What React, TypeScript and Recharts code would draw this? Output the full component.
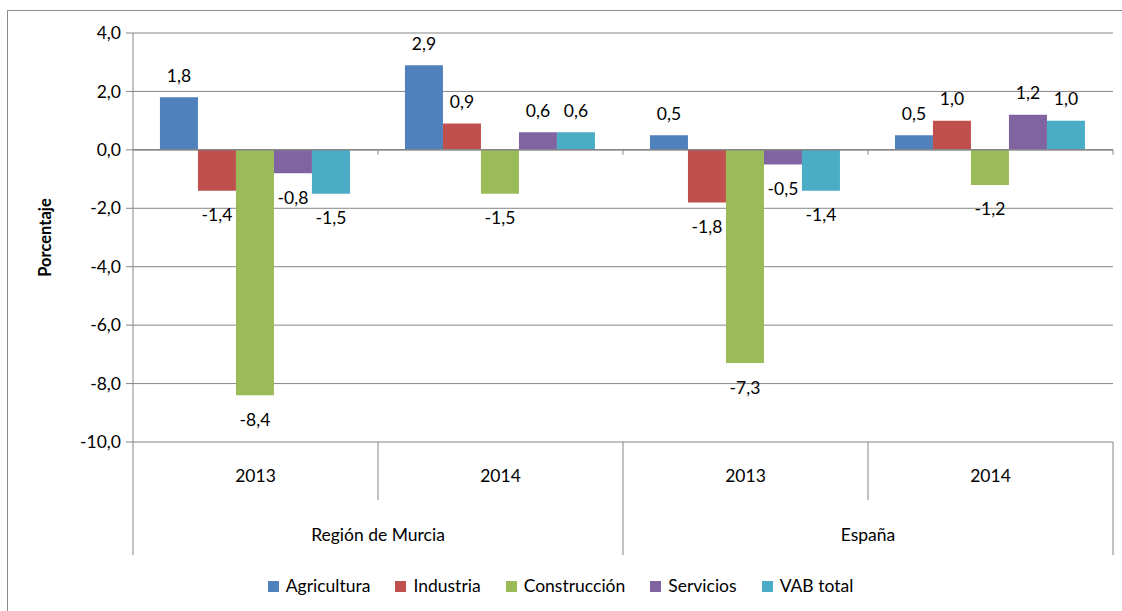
import React from 'react';
import { BarChart, Bar, XAxis, YAxis, CartesianGrid, ReferenceLine, Legend, LabelList } from 'recharts';

const regions = ['Región de Murcia', 'Región de Murcia', 'España', 'España'];
const years = ['2013', '2014', '2013', '2014'];

const agricultura = [1.8, 2.9, 0.5, 0.5];
const industria = [-1.4, 0.9, -1.8, 1.0];
const construccion = [-8.4, -1.5, -7.3, -1.2];
const servicios = [-0.8, 0.6, -0.5, 1.2];
const vabTotal = [-1.5, 0.6, -1.4, 1.0];

const yTicks = [-10, -8, -6, -4, -2, 0, 2, 4];

const series = [
    { key: 'agricultura', name: 'Agricultura', color: '#4F81BD', values: agricultura },
    { key: 'industria', name: 'Industria', color: '#C0504D', values: industria },
    { key: 'construccion', name: 'Construcción', color: '#9BBB59', values: construccion },
    { key: 'servicios', name: 'Servicios', color: '#8064A2', values: servicios },
    { key: 'vab', name: 'VAB total', color: '#4BACC6', values: vabTotal },
];

const data = years.map((year, i) => {
    const row: Record<string, string | number> = { year, region: regions[i] };
    series.forEach((s) => {
        row[s.key] = s.values[i];
    });
    return row;
});

// layout
const W = 1122;
const H = 611;
const MARGIN = { top: 33, right: 9, left: 8, bottom: 10 };
const Y_AXIS_W = 125;
const YEAR_AXIS_H = 58;
const REGION_AXIS_H = 55;
const LEGEND_H = 46;
const PLOT_LEFT = MARGIN.left + Y_AXIS_W;
const PLOT_W = W - MARGIN.right - PLOT_LEFT;
const PLOT_BOTTOM = H - MARGIN.bottom - LEGEND_H - REGION_AXIS_H - YEAR_AXIS_H;
const PLOT_H = PLOT_BOTTOM - MARGIN.top;
const Y_MIN = -10;
const Y_MAX = 4;
const ZERO_Y = MARGIN.top + ((Y_MAX - 0) / (Y_MAX - Y_MIN)) * PLOT_H;
const BAND = PLOT_W / years.length;

const GRID = '#868686';
const FONT = 'Lato, "Liberation Sans", sans-serif';
const FS = 17.5;

const fmt = (v: number) => v.toFixed(1).replace('.', ',');

const YearTick = (props: any) => {
    const { x, index } = props;
    const left = x - BAND / 2;
    const right = x + BAND / 2;
    const groupStart = index % 2 === 0;
    const last = index === years.length - 1;
    return (
        <g>
            <text x={x} y={PLOT_BOTTOM + 33} textAnchor="middle" dominantBaseline="central" fontSize={FS} fill="#000">
                {props.payload.value}
            </text>
            <line x1={left} x2={left} y1={PLOT_BOTTOM} y2={PLOT_BOTTOM + (groupStart ? YEAR_AXIS_H + REGION_AXIS_H : YEAR_AXIS_H)} stroke={GRID} />
            {last && <line x1={right} x2={right} y1={PLOT_BOTTOM} y2={PLOT_BOTTOM + YEAR_AXIS_H + REGION_AXIS_H} stroke={GRID} />}
            <line x1={right} x2={right} y1={ZERO_Y} y2={ZERO_Y + 5} stroke={GRID} />
        </g>
    );
};

const RegionTick = (props: any) => (
    <text x={props.x} y={PLOT_BOTTOM + YEAR_AXIS_H + 34} textAnchor="middle" dominantBaseline="central" fontSize={FS} fill="#000">
        {props.payload.value}
    </text>
);

const ValueLabel = (props: any) => {
    const { x, y, width, height, value } = props;
    const top = Math.min(y, y + height);
    const bottom = Math.max(y, y + height);
    const cx = x + width / 2;
    const cy = value >= 0 ? top - 22 : bottom + 24;
    return (
        <text x={cx} y={cy} textAnchor="middle" dominantBaseline="central" fontSize={FS} fill="#000">
            {fmt(value)}
        </text>
    );
};

const YLabel = () => {
    const cy = MARGIN.top + PLOT_H / 2;
    return (
        <text x={45} y={cy} transform={`rotate(-90, 45, ${cy})`} textAnchor="middle" dominantBaseline="central" fontSize={16.5} fontWeight="bold" fill="#000">
            Porcentaje
        </text>
    );
};

const LegendContent = () => (
    <div style={{ height: LEGEND_H, display: 'flex', justifyContent: 'center', alignItems: 'flex-start', paddingTop: 20, boxSizing: 'border-box', fontFamily: FONT, fontSize: FS, lineHeight: '22px', color: '#000' }}>
        {series.map((s) => (
            <div key={s.key} style={{ display: 'flex', alignItems: 'center', margin: '0 12.5px' }}>
                <span style={{ width: 11, height: 11, background: s.color, display: 'inline-block', marginRight: 7 }} />
                <span>{s.name}</span>
            </div>
        ))}
    </div>
);

export default function App() {
    return (
        <div style={{ position: 'absolute', left: 0, top: 0, width: W, height: H, background: '#fff', fontFamily: FONT }}>
            <div style={{ position: 'absolute', left: 7, top: 10, width: W, height: H, border: '1px solid #8c8c8c' }} />
            <div style={{ position: 'absolute', left: 0, top: 0 }}>
                <BarChart width={W} height={H} data={data} margin={MARGIN} barCategoryGap="11%" barGap={0} style={{ fontFamily: FONT }}>
                    <CartesianGrid vertical={false} stroke={GRID} strokeWidth={1} />
                    <XAxis
                        dataKey="year"
                        xAxisId={0}
                        height={YEAR_AXIS_H}
                        axisLine={false}
                        tickLine={false}
                        interval={0}
                        tick={<YearTick />}
                    />
                    <XAxis
                        dataKey="region"
                        xAxisId="region"
                        allowDuplicatedCategory={false}
                        height={REGION_AXIS_H}
                        axisLine={false}
                        tickLine={false}
                        interval={0}
                        tick={<RegionTick />}
                    />
                    <YAxis
                        width={Y_AXIS_W}
                        domain={[Y_MIN, Y_MAX]}
                        ticks={yTicks}
                        interval={0}
                        tickFormatter={fmt}
                        tick={{ fill: '#000', fontSize: FS }}
                        tickSize={7}
                        tickMargin={5}
                        axisLine={{ stroke: GRID }}
                        tickLine={{ stroke: GRID }}
                        label={<YLabel />}
                    />
                    <ReferenceLine y={0} stroke={GRID} strokeWidth={1.5} />
                    <Legend verticalAlign="bottom" height={LEGEND_H} content={<LegendContent />} />
                    {series.map((s) => (
                        <Bar key={s.key} dataKey={s.key} name={s.name} fill={s.color} isAnimationActive={false}>
                            <LabelList dataKey={s.key} content={<ValueLabel />} />
                        </Bar>
                    ))}
                </BarChart>
            </div>
        </div>
    );
}
